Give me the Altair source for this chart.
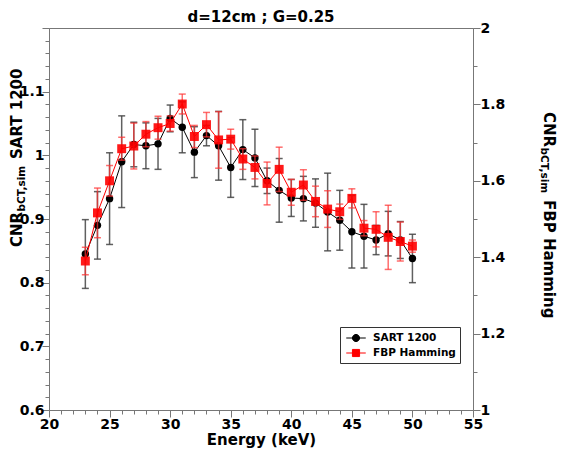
import altair as alt
import pandas as pd

# ---- data ----
energy = list(range(23, 51))
sart = [0.845, 0.890, 0.932, 0.990, 1.017, 1.015, 1.018, 1.058, 1.044, 1.005,
        1.031, 1.015, 0.981, 1.009, 0.996, 0.960, 0.945, 0.933, 0.932, 0.925,
        0.911, 0.898, 0.880, 0.873, 0.867, 0.877, 0.867, 0.838]
sart_err = [0.054, 0.053, 0.072, 0.072, 0.035, 0.036, 0.040, 0.021, 0.040, 0.040,
            0.016, 0.054, 0.047, 0.047, 0.045, 0.020, 0.050, 0.029, 0.035, 0.038,
            0.061, 0.047, 0.057, 0.050, 0.023, 0.035, 0.029, 0.038]
fbp = [1.390, 1.516, 1.600, 1.684, 1.691, 1.722, 1.739, 1.750, 1.801, 1.716,
       1.747, 1.707, 1.709, 1.657, 1.635, 1.593, 1.630, 1.570, 1.589, 1.546,
       1.526, 1.519, 1.554, 1.476, 1.473, 1.452, 1.441, 1.429]
fbp_err = [0.036, 0.065, 0.040, 0.030, 0.060, 0.033, 0.030, 0.020, 0.026, 0.029,
           0.032, 0.074, 0.026, 0.027, 0.030, 0.056, 0.058, 0.034, 0.040, 0.040,
           0.048, 0.020, 0.025, 0.020, 0.046, 0.084, 0.051, 0.016]

series_names = ["SART 1200", "FBP Hamming"]
series_colors = ["black", "red"]

x_ticks = list(range(20, 56))
left_ticks = [round(0.6 + 0.02 * i, 2) for i in range(31)]
right_ticks = [round(1.0 + 0.1 * i, 1) for i in range(11)]

df = pd.DataFrame({"E": energy, "sart": sart, "sart_err": sart_err,
                   "fbp": fbp, "fbp_err": fbp_err})
df["sart_lo"] = df["sart"] - df["sart_err"]
df["sart_hi"] = df["sart"] + df["sart_err"]
df["fbp_lo"] = df["fbp"] - df["fbp_err"]
df["fbp_hi"] = df["fbp"] + df["fbp_err"]

FONT = "DejaVu Sans"
AX = "#777777"
LBL = 14

x_enc = alt.X(
    "E:Q",
    scale=alt.Scale(domain=[20, 55], nice=False, zero=False),
    title="Energy (keV)",
    axis=alt.Axis(
        values=x_ticks,
        labelExpr="datum.value % 5 === 0 ? format(datum.value, 'd') : ''",
        tickSize={"condition": {"test": "datum.value % 5 === 0", "value": 7}, "value": 4},
        labelOverlap=False, labelFlush=False, labelBound=False,
        labelFont=FONT, labelFontSize=LBL, labelFontWeight="bold", labelColor="black",
        labelPadding=0,
        titleFont=FONT, titleFontSize=15, titleFontWeight="bold", titleColor="black",
        titlePadding=1,
        domainColor=AX, tickColor=AX, grid=False,
    ),
)

major_l = "abs(datum.value*10 - round(datum.value*10)) < 0.001"
axis_left = alt.Axis(
    orient="left", values=left_ticks, title=None, grid=False,
    labelExpr=f"{major_l} && datum.value < 1.15 ? format(datum.value, '~g') : ''",
    tickSize={"condition": {"test": major_l, "value": 7}, "value": 4},
    labelOverlap=False, labelFlush=False, labelBound=False,
    labelFont=FONT, labelFontSize=LBL, labelFontWeight="bold", labelColor="black",
    labelPadding=-2, domainColor=AX, tickColor=AX,
)
major_r = "abs(datum.value*5 - round(datum.value*5)) < 0.001"
axis_right = alt.Axis(
    orient="right", values=right_ticks, title=None, grid=False,
    labelExpr=f"{major_r} ? format(datum.value, '~g') : ''",
    tickSize={"condition": {"test": major_r, "value": 7}, "value": 4},
    labelOverlap=False, labelFlush=False, labelBound=False,
    labelFont=FONT, labelFontSize=LBL, labelFontWeight="bold", labelColor="black",
    labelPadding=0, domainColor=AX, tickColor=AX,
)
scale_left = alt.Scale(domain=[0.6, 1.2], nice=False, zero=False)
scale_right = alt.Scale(domain=[1.0, 2.0], nice=False, zero=False)


def yl(field):
    return alt.Y(field, type="quantitative", scale=scale_left, axis=axis_left)


def yr(field):
    return alt.Y(field, type="quantitative", scale=scale_right, axis=axis_right)


base = alt.Chart(df)

# ---- SART (left axis) ----
BC = "#444444"
b_err = base.mark_rule(color=BC, strokeWidth=1.5, opacity=0.85).encode(
    x=x_enc, y=yl("sart_lo"), y2="sart_hi")
b_cap_lo = base.mark_tick(orient="horizontal", size=7, thickness=1.5, color=BC, opacity=0.85).encode(
    x=x_enc, y=yl("sart_lo"))
b_cap_hi = base.mark_tick(orient="horizontal", size=7, thickness=1.5, color=BC, opacity=0.85).encode(
    x=x_enc, y=yl("sart_hi"))
b_line = base.mark_line(color="black", strokeWidth=1).encode(x=x_enc, y=yl("sart"))
b_pts = base.mark_point(filled=True, shape="circle", size=55, color="black", opacity=1).encode(
    x=x_enc, y=yl("sart"))

leg = alt.Legend(
    orient="none", legendX=291, legendY=299, title=None,
    padding=4, strokeColor="#333333", fillColor="white", cornerRadius=0,
    labelFont=FONT, labelFontSize=10.5, labelFontWeight="bold", labelColor="black",
    symbolSize=169, symbolStrokeWidth=1, symbolOffset=5, labelOffset=10,
    rowPadding=2, symbolOpacity=1,
)
circ_path = "M-1.5,0L1.5,0M0.55,0A0.55,0.55,0,1,1,-0.55,0A0.55,0.55,0,1,1,0.55,0Z"
sq_path = "M-1.5,0L1.5,0M-0.55,-0.55L0.55,-0.55L0.55,0.55L-0.55,0.55Z"
leg_df = pd.DataFrame({"series": series_names})
legend_layer = alt.Chart(leg_df).transform_filter("false").mark_point(
    filled=True, strokeWidth=1, opacity=1).encode(
    fill=alt.Fill("series:N", scale=alt.Scale(domain=series_names, range=series_colors), legend=leg),
    stroke=alt.Stroke("series:N", scale=alt.Scale(domain=series_names, range=series_colors), legend=leg),
    shape=alt.Shape("series:N", scale=alt.Scale(domain=series_names, range=[circ_path, sq_path]), legend=leg),
)

black = alt.layer(b_err, b_cap_lo, b_cap_hi, b_line, b_pts, legend_layer)

# ---- FBP (right axis) ----
RC = "#ff3030"
r_err = base.mark_rule(color=RC, strokeWidth=1.5, opacity=0.7).encode(
    x=x_enc, y=yr("fbp_lo"), y2="fbp_hi")
r_cap_lo = base.mark_tick(orient="horizontal", size=7, thickness=1.5, color=RC, opacity=0.7).encode(
    x=x_enc, y=yr("fbp_lo"))
r_cap_hi = base.mark_tick(orient="horizontal", size=7, thickness=1.5, color=RC, opacity=0.7).encode(
    x=x_enc, y=yr("fbp_hi"))
r_line = base.mark_line(color="red", strokeWidth=1).encode(x=x_enc, y=yr("fbp"))
r_pts = base.mark_point(filled=True, shape="square", size=80, color="red", opacity=0.9).encode(
    x=x_enc, y=yr("fbp"))
red = alt.layer(r_err, r_cap_lo, r_cap_hi, r_line, r_pts)

# ---- titles (with subscripts) ----
one = pd.DataFrame({"a": [0]})


def piece(txt, x, y, angle=0, size=15, align="left"):
    return alt.Chart(one).mark_text(
        text=txt, angle=angle, font=FONT, fontSize=size, fontWeight="bold",
        align=align, baseline="alphabetic", color="black",
    ).encode(x=alt.value(x), y=alt.value(y))


title = piece("d=12cm ; G=0.25", 212, -6, 0, 15, "center")

# left title (reads bottom to top); subscript sits between the 0.9 and 1 labels
lx, ly = -27.5, 219
left_t = [
    piece("CNR", lx, ly, 270, 15),
    piece("bCT,sim", lx + 3.5, ly - 35.5, 270, 10.5),
    piece("SART 1200", lx, ly - 35.5 - 47.5 - 5, 270, 15),
]
# right title (reads top to bottom)
rx, ry = 495, 84
right_t = [
    piece("CNR", rx, ry, 90),
    piece("bCT,sim", rx - 3.5, ry + 35.5, 90, 10.5),
    piece("FBP Hamming", rx, ry + 35.5 + 47.5 + 5, 90),
]

chart = alt.layer(black, red, title, *left_t, *right_t).resolve_scale(
    y="independent"
).properties(
    width=424, height=382,
    padding={"left": 41, "top": 20, "right": 85, "bottom": 39},
    autosize=alt.AutoSizeParams(type="none"),
).configure_view(stroke=AX, strokeWidth=1)

chart.save("out.html", embed_options={"renderer": "svg", "actions": False})
